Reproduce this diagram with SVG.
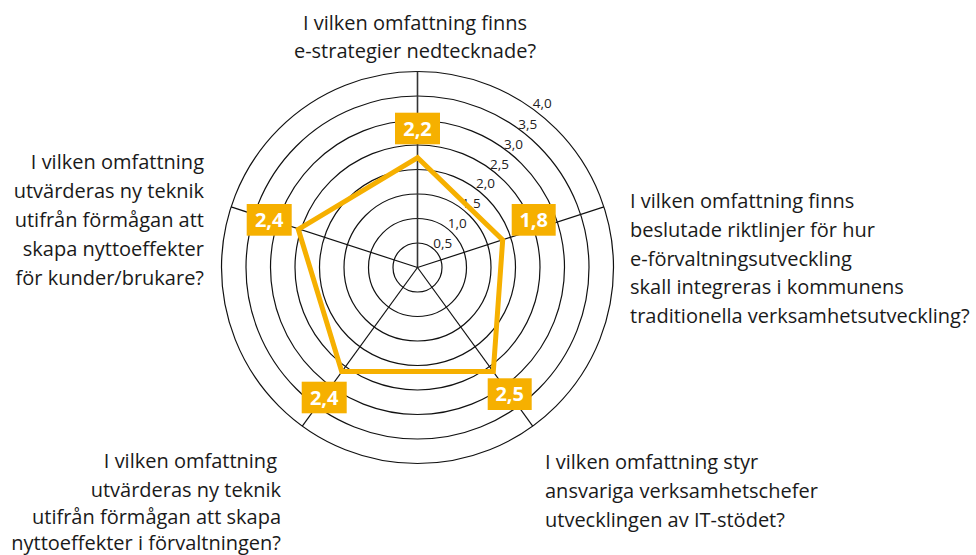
<svg xmlns="http://www.w3.org/2000/svg" width="976" height="555" viewBox="0 0 976 555">
<style>
.q{font-family:"Open Sans","Noto Sans",sans-serif;font-size:20px;fill:#1a1a1a}
.ring{fill:none;stroke:#111;stroke-width:1.2}
.ax{stroke:#111;stroke-width:1.2}
.tick{font-family:"Open Sans","Noto Sans",sans-serif;font-size:13.5px;fill:#222}
.vb{fill:#F6B000}
.vt{font-family:"Open Sans","Noto Sans",sans-serif;font-size:20px;font-weight:bold;fill:#fff;text-anchor:middle}
</style>
<rect width="976" height="555" fill="#fff"/>
<g id="grid">
<circle class="ring" cx="417.5" cy="267.5" r="24.5"/>
<circle class="ring" cx="417.5" cy="267.5" r="49"/>
<circle class="ring" cx="417.5" cy="267.5" r="73.5"/>
<circle class="ring" cx="417.5" cy="267.5" r="98"/>
<circle class="ring" cx="417.5" cy="267.5" r="122.5"/>
<circle class="ring" cx="417.5" cy="267.5" r="147"/>
<circle class="ring" cx="417.5" cy="267.5" r="171.5"/>
<circle class="ring" cx="417.5" cy="267.5" r="196"/>
</g>
<g id="connectors">
<line class="ax" x1="417.5" y1="267.5" x2="417.5" y2="71.5" style="stroke:#333;stroke-width:1.6"/>
<line class="ax" x1="417.5" y1="267.5" x2="603.9" y2="206.9"/>
<line class="ax" x1="417.5" y1="267.5" x2="532.7" y2="426.1"/>
<line class="ax" x1="417.5" y1="267.5" x2="302.3" y2="426.1"/>
<line class="ax" x1="417.5" y1="267.5" x2="231.1" y2="206.9"/>
</g>
<g id="ticks" class="tick">
<text x="532.7" y="108.3">4,0</text>
<text x="518.3" y="129.3">3,5</text>
<text x="504" y="149.3">3,0</text>
<text x="490" y="169.3">2,5</text>
<text x="476" y="188.3">2,0</text>
<text x="461.7" y="207.7">1,5</text>
<text x="447.7" y="227.7">1,0</text>
<text x="433.3" y="248.3">0,5</text>
</g>
<g id="series">
<polygon points="417.7,157.7 502.7,240 493.3,371.5 341.7,371.5 298.3,229.3" fill="none" stroke="#F6B000" stroke-width="5" stroke-linejoin="miter"/>
</g>
<g id="v1"><rect class="vb" x="395" y="112.7" width="45" height="31.6"/><text class="vt" x="417.5" y="135.5">2,2</text></g>
<g id="v2"><rect class="vb" x="511.7" y="204" width="44" height="31.7"/><text class="vt" x="533.7" y="226.8">1,8</text></g>
<g id="v3"><rect class="vb" x="487.7" y="378.3" width="44" height="31.7"/><text class="vt" x="509.7" y="401.1">2,5</text></g>
<g id="v4"><rect class="vb" x="301.7" y="381.7" width="45" height="31.6"/><text class="vt" x="324.2" y="404.5">2,4</text></g>
<g id="v5"><rect class="vb" x="246.7" y="204" width="45" height="31.7"/><text class="vt" x="269.2" y="226.8">2,4</text></g>
<g id="q1" class="q" text-anchor="middle">
<text x="415" y="30">I vilken omfattning finns</text>
<text x="415" y="58">e-strategier nedtecknade?</text>
</g>
<g id="q2" class="q">
<text x="630" y="208.3">I vilken omfattning finns</text>
<text x="630" y="237">beslutade riktlinjer för hur</text>
<text x="630" y="265.7">e-förvaltningsutveckling</text>
<text x="630" y="294.3">skall integreras i kommunens</text>
<text x="630" y="323">traditionella verksamhetsutveckling?</text>
</g>
<g id="q3" class="q">
<text x="545" y="469.3">I vilken omfattning styr</text>
<text x="545" y="498.3">ansvariga verksamhetschefer</text>
<text x="545" y="527.3">utvecklingen av IT-stödet?</text>
</g>
<g id="q4" class="q" text-anchor="end">
<text x="277" y="468.3">I vilken omfattning</text>
<text x="281" y="496.8">utvärderas ny teknik</text>
<text x="281" y="524.3">utifrån förmågan att skapa</text>
<text x="281" y="549.5">nyttoeffekter i förvaltningen?</text>
</g>
<g id="q5" class="q" text-anchor="end">
<text x="204" y="169.3">I vilken omfattning</text>
<text x="204" y="198.3">utvärderas ny teknik</text>
<text x="204" y="227.3">utifrån förmågan att</text>
<text x="204" y="256">skapa nyttoeffekter</text>
<text x="204" y="285">för kunder/brukare?</text>
</g>
</svg>
